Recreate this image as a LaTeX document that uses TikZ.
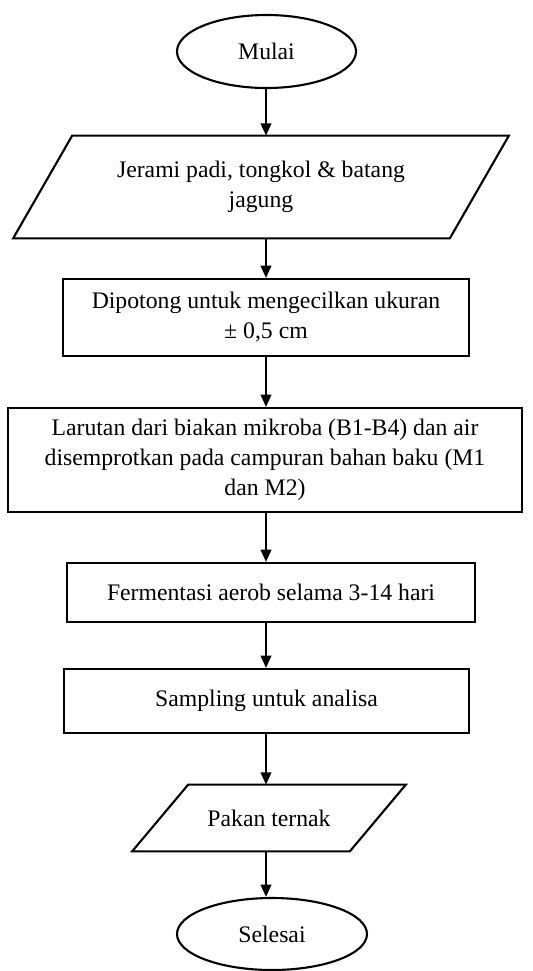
\documentclass[tikz,border=0pt]{standalone}
\usepackage{fontspec}
\setmainfont{Liberation Serif}
\usetikzlibrary{arrows.meta, positioning, calc, shapes.geometric}
\newdimen\pxu \pxu=0.02cm

\begin{document}
\begin{tikzpicture}[x=0.02cm, y=-0.02cm, font=\fontsize{13.5}{17}\selectfont,
        garis/.style={line width=1.2pt},
        kotak/.style={rectangle, draw, garis, inner sep=0pt, align=center},
        oval/.style={ellipse, draw, garis, inner sep=0pt},
        miring/.style={rectangle, inner sep=0pt, align=center},
        panah/.style={-{Triangle[width=6pt,length=7pt]}, garis}]
        \useasboundingbox (0,0) rectangle (533,971);
        \coordinate (poros) at (266,0);
        % terminal
        \node[oval, minimum width=179\pxu, minimum height=73\pxu] (mulai) at (266.5,51.5) {Mulai};
        \node[oval, minimum width=190\pxu, minimum height=72\pxu] (selesai) at (272,934) {Selesai};
        % input / output
        \node[miring, minimum width=436\pxu, minimum height=102\pxu] (bahan) at (261,187)
            {Jerami padi, tongkol \& batang\\ jagung};
        \node[miring, minimum width=217\pxu, minimum height=66\pxu] (pakan) at (269,818) {Pakan ternak};
        \foreach \n/\s in {bahan/29.5, pakan/28}
            \draw[garis] ([xshift=\s\pxu]\n.north west) -- ([xshift=\s\pxu]\n.north east)
                -- ([xshift=-\s\pxu]\n.south east) -- ([xshift=-\s\pxu]\n.south west) -- cycle;
        % proses
        \foreach \n/\x/\y/\w/\h/\txt in {
            potong/266/317.5/406/77/{Dipotong untuk mengecilkan ukuran\\ ± 0,5 cm},
            larutan/265/460/514/104/{Larutan dari biakan mikroba (B1-B4) dan air\\ disemprotkan pada campuran bahan baku (M1\\ dan M2)},
            fermentasi/271/592.5/408/59/{Fermentasi aerob selama 3-14 hari},
            sampling/266.5/701/405/64/{Sampling untuk analisa}}
        {
            \node[kotak, minimum width=\w\pxu, minimum height=\h\pxu] (\n) at (\x,\y) {\txt};
        }
        \foreach \a/\b in {mulai/bahan, bahan/potong, potong/larutan, larutan/fermentasi,
                fermentasi/sampling, sampling/pakan, pakan/selesai}
            \draw[panah] (\a.south -| poros) -- (\b.north -| poros);
    \end{tikzpicture}
\end{document}
